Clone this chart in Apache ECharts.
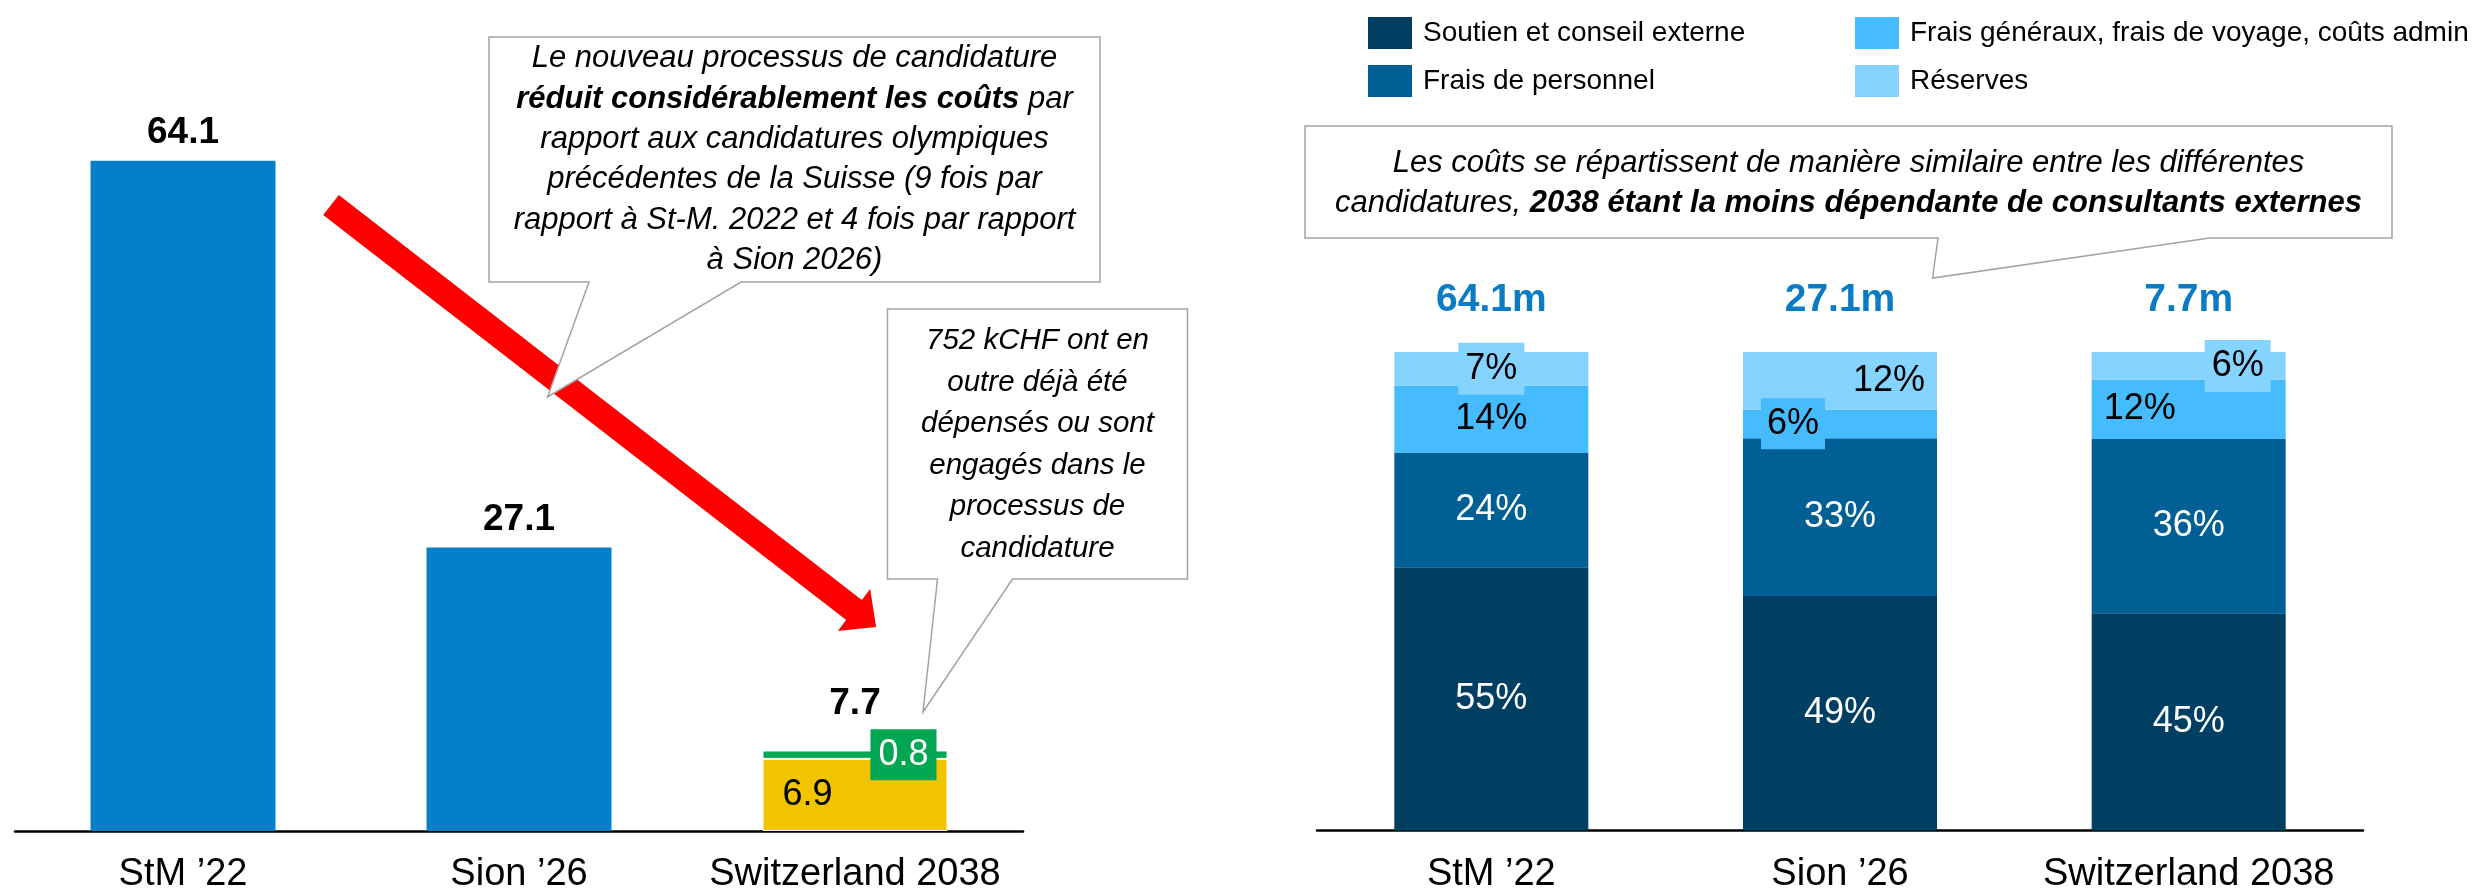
<!DOCTYPE html>
<html>
<head>
<meta charset="utf-8">
<script src="https://cdn.jsdelivr.net/npm/echarts@6/dist/echarts.min.js"></script>
<style>
html,body{margin:0;padding:0;background:#fff;}
#chart{width:2486px;height:889px;}
</style>
</head>
<body>
<div id="chart"></div>
<script>
// ---------- data ----------
const categories = ['StM ’22', 'Sion ’26', 'Switzerland 2038'];
const totalCost = [64.1, 27.1, 7.7];          // total bid cost (m CHF)
const pastBidCost = [64.1, 27.1, null];       // earlier Swiss bids
const budget2038 = [null, null, 6.9];         // remaining 2038 budget
const spent2038 = [null, null, 0.8];          // already spent / committed
const shareExternal = [55, 49, 45.4];         // Soutien et conseil externe (%)
const sharePersonnel = [24, 33, 36.4];        // Frais de personnel (%)
const shareOverhead = [14, 6, 12.4];          // Frais généraux ... (%)
const shareReserves = [7, 12, 5.8];           // Réserves (%)
const seriesNames = ['Soutien et conseil externe', 'Frais de personnel',
  'Frais généraux, frais de voyage, coûts admin', 'Réserves'];
const calloutLeft = [
  'Le nouveau processus de candidature',
  '{b|réduit considérablement les coûts} par',
  'rapport aux candidatures olympiques',
  'précédentes de la Suisse (9 fois par',
  'rapport à St-M. 2022 et 4 fois par rapport',
  'à Sion 2026)'
];
const calloutSmall = ['752 kCHF ont en', 'outre déjà été', 'dépensés ou sont',
  'engagés dans le', 'processus de', 'candidature'];
const calloutRight = [
  'Les coûts se répartissent de manière similaire entre les différentes',
  'candidatures, {b|2038 étant la moins dépendante de consultants externes}'
];

// ---------- styles ----------
const FONT = 'Liberation Sans';
const C = {
  blue: '#0580c8', yellow: '#f2c400', green: '#00a651', red: '#ff0000',
  ext: '#003f62', pers: '#005f95', over: '#46bcff', res: '#85d3ff',
  totalBlue: '#0a7cc4', border: '#a3a3a3'
};
const pct = p => Math.round(p.value) + '%';

function withLabels(values, overrides) {
  return values.map((v, i) => overrides[i] ? { value: v, label: overrides[i] } : v);
}
const stackTotals = categories.map((_, i) =>
  shareExternal[i] + sharePersonnel[i] + shareOverhead[i] + shareReserves[i]);

const chart = echarts.init(document.getElementById('chart'), null, { renderer: 'canvas' });

const option = {
  backgroundColor: '#fff',
  animation: false,
  textStyle: { fontFamily: FONT },
  grid: [
    { left: 15, top: 99, width: 1008, height: 732, outerBoundsMode: 'none', containLabel: false },
    { left: 1317, top: 352, width: 1046, height: 478.5, outerBoundsMode: 'none', containLabel: false }
  ],
  xAxis: [0, 1].map(g => ({
    type: 'category', gridIndex: g, data: categories,
    axisLine: { lineStyle: { color: '#000', width: 2.5 } },
    axisTick: { show: false },
    axisLabel: { interval: 0, fontSize: 38, color: '#000', fontFamily: FONT, margin: 25 }
  })),
  yAxis: [
    { type: 'value', gridIndex: 0, min: 0, max: 70, show: false },
    { type: 'value', gridIndex: 1, min: 0, max: 100, show: false }
  ],
  legend: [
    { data: seriesNames.slice(0, 2), left: 1368, top: 17 },
    { data: seriesNames.slice(2, 4), left: 1855, top: 17 }
  ].map(l => Object.assign(l, {
    orient: 'vertical', icon: 'rect', itemWidth: 44, itemHeight: 32, itemGap: 16,
    padding: 0, selectedMode: false,
    textStyle: { fontSize: 28, color: '#000', fontFamily: FONT, padding: [0, 0, 0, 6] }
  })),
  series: [
    // ---- left chart ----
    {
      name: 'Candidatures précédentes', type: 'bar', xAxisIndex: 0, yAxisIndex: 0,
      stack: 'L', barWidth: 185, data: pastBidCost,
      itemStyle: { color: C.blue }
    },
    {
      name: 'Budget 2038', type: 'bar', xAxisIndex: 0, yAxisIndex: 0,
      stack: 'L', barWidth: 185, data: budget2038,
      itemStyle: { color: C.yellow, borderColor: '#fff', borderWidth: 1 },
      label: { show: true, position: 'insideLeft', distance: 20, color: '#000',
        fontSize: 36, fontFamily: FONT }
    },
    {
      name: 'Déjà dépensé', type: 'bar', xAxisIndex: 0, yAxisIndex: 0,
      stack: 'L', barWidth: 185, data: spent2038,
      itemStyle: { color: C.green, borderColor: '#fff', borderWidth: 1 },
      label: { show: true, position: 'insideRight', distance: 11, color: '#fff',
        fontSize: 36, fontFamily: FONT, backgroundColor: C.green, padding: [8, 8, 7, 8] }
    },
    {
      name: 'Total', type: 'scatter', xAxisIndex: 0, yAxisIndex: 0,
      symbolSize: 1, itemStyle: { color: 'rgba(0,0,0,0)', opacity: 1 }, z: 5,
      data: withLabels(totalCost, { 2: { distance: 28 } }),
      label: { show: true, position: 'top', distance: 9, color: '#000',
        fontSize: 37, fontWeight: 'bold', fontFamily: FONT, formatter: p => p.value.toFixed(1) }
    },
    // ---- right chart ----
    {
      name: seriesNames[0], type: 'bar', xAxisIndex: 1, yAxisIndex: 1, stack: 'R',
      barWidth: 194, data: shareExternal, itemStyle: { color: C.ext },
      label: { show: true, position: 'inside', color: '#fff', fontSize: 36, fontFamily: FONT, formatter: pct }
    },
    {
      name: seriesNames[1], type: 'bar', xAxisIndex: 1, yAxisIndex: 1, stack: 'R',
      barWidth: 194, data: sharePersonnel, itemStyle: { color: C.pers },
      label: { show: true, position: 'inside', color: '#fff', fontSize: 36, fontFamily: FONT, formatter: pct }
    },
    {
      name: seriesNames[2], type: 'bar', xAxisIndex: 1, yAxisIndex: 1, stack: 'R',
      barWidth: 194, itemStyle: { color: C.over },
      data: withLabels(shareOverhead, {
        1: { position: 'insideLeft', distance: 18, backgroundColor: C.over, padding: [8, 6, 7, 6] },
        2: { position: 'insideLeft', distance: 12 }
      }),
      label: { show: true, position: 'inside', color: '#000', fontSize: 36, fontFamily: FONT, formatter: pct }
    },
    {
      name: seriesNames[3], type: 'bar', xAxisIndex: 1, yAxisIndex: 1, stack: 'R',
      barWidth: 194, itemStyle: { color: C.res },
      data: withLabels(shareReserves, {
        0: { backgroundColor: C.res, padding: [8, 7, 8, 7] },
        1: { position: 'insideRight', distance: 12 },
        2: { position: 'insideRight', distance: 15, backgroundColor: C.res, padding: [8, 7, 8, 7] }
      }),
      label: { show: true, position: 'inside', color: '#000', fontSize: 36, fontFamily: FONT, formatter: pct }
    },
    {
      name: 'Total (m)', type: 'scatter', xAxisIndex: 1, yAxisIndex: 1,
      symbolSize: 1, itemStyle: { color: 'rgba(0,0,0,0)', opacity: 1 }, z: 5,
      data: stackTotals,
      label: { show: true, position: 'top', distance: 32, color: C.totalBlue,
        fontSize: 39, fontWeight: 'bold', fontFamily: FONT,
        formatter: p => totalCost[p.dataIndex].toFixed(1) + 'm' }
    }
  ],
  graphic: [
    // red trend arrow
    {
      type: 'polygon', z: 10,
      shape: { points: [[338.8, 194.9], [861.8, 599.9], [870.2, 589], [876.1, 627.1],
        [837.8, 631], [846.2, 620.1], [323.2, 215.1]] },
      style: { fill: C.red }
    },
    // callout left
    {
      type: 'polygon', z: 20,
      shape: { points: [[489, 37], [1100, 37], [1100, 282], [741, 282], [547.5, 397],
        [589, 282], [489, 282]] },
      style: { fill: '#fff', stroke: C.border, lineWidth: 1.5 }
    },
    {
      type: 'text', z: 21, x: 794.5, y: 159.5,
      style: {
        text: calloutLeft.join('\n'), align: 'center', verticalAlign: 'middle',
        fontFamily: FONT, fontStyle: 'italic', fontSize: 31, lineHeight: 40.3, fill: '#000',
        rich: { b: { fontFamily: FONT, fontStyle: 'italic', fontWeight: 'bold', fontSize: 31, lineHeight: 40.3 } }
      }
    },
    // callout small
    {
      type: 'polygon', z: 20,
      shape: { points: [[887.5, 309], [1187.5, 309], [1187.5, 579], [1012.5, 579], [923, 712],
        [937.5, 579], [887.5, 579]] },
      style: { fill: '#fff', stroke: C.border, lineWidth: 1.5 }
    },
    {
      type: 'text', z: 21, x: 1037.5, y: 445,
      style: {
        text: calloutSmall.join('\n'), align: 'center', verticalAlign: 'middle',
        fontFamily: FONT, fontStyle: 'italic', fontSize: 29.5, lineHeight: 41.5, fill: '#000'
      }
    },
    // callout right
    {
      type: 'polygon', z: 20,
      shape: { points: [[1305, 126], [2392, 126], [2392, 238], [2209.6, 238], [1932.6, 278],
        [1938, 238], [1305, 238]] },
      style: { fill: '#fff', stroke: C.border, lineWidth: 1.5 }
    },
    {
      type: 'text', z: 21, x: 1848.5, y: 183,
      style: {
        text: calloutRight.join('\n'), align: 'center', verticalAlign: 'middle',
        fontFamily: FONT, fontStyle: 'italic', fontSize: 31, lineHeight: 40, fill: '#000',
        rich: { b: { fontFamily: FONT, fontStyle: 'italic', fontWeight: 'bold', fontSize: 31, lineHeight: 40 } }
      }
    }
  ]
};
chart.setOption(option);
</script>
</body>
</html>
